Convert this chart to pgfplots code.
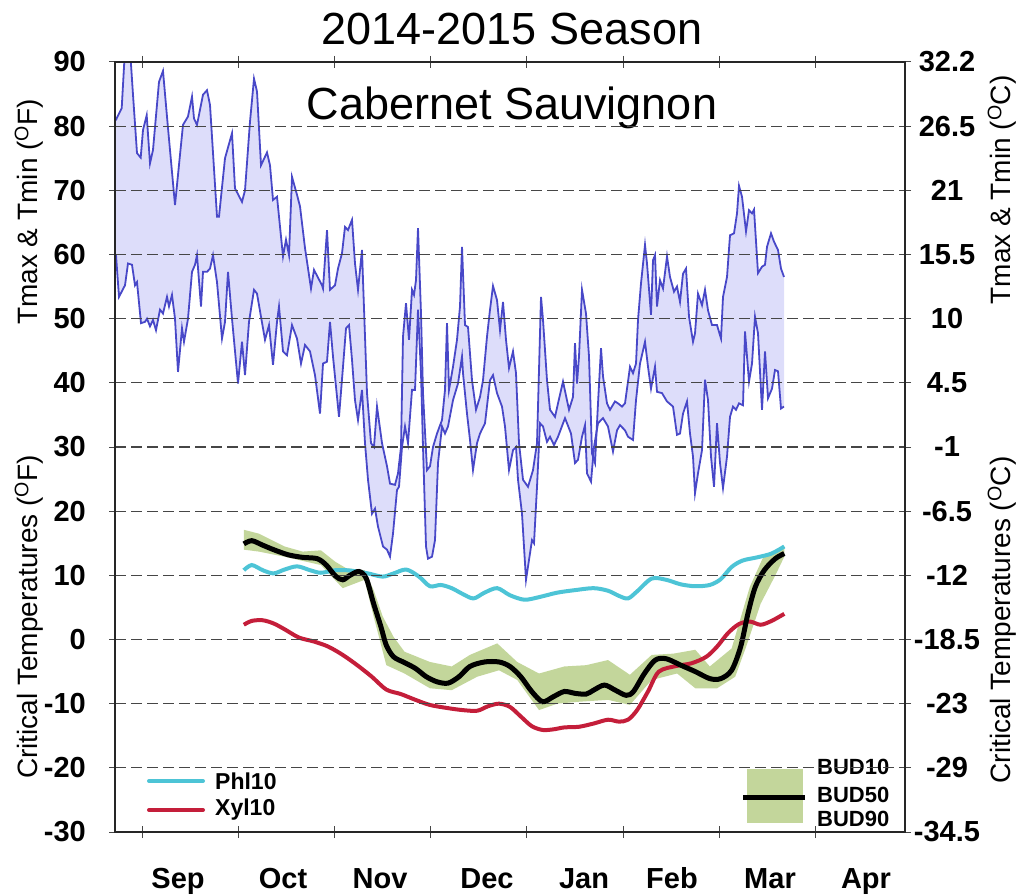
\documentclass[border=0pt]{standalone}
\usepackage{fontspec}
\setmainfont{Liberation Sans}
\usepackage{pgfplots}
\pgfplotsset{compat=1.18}
\usepgfplotslibrary{fillbetween}

\definecolor{lav}{RGB}{221,221,250}
\definecolor{tline}{RGB}{72,72,200}
\definecolor{phl}{RGB}{77,196,214}
\definecolor{xyl}{RGB}{196,30,58}
\definecolor{bud}{RGB}{195,214,155}
\definecolor{gridc}{RGB}{70,70,70}

\begin{document}
\begin{tikzpicture}
\begin{axis}[
  at={(115pt,63pt)}, anchor=south west,
  scale only axis, width=790pt, height=770pt,
  xmin=115, xmax=905, ymin=-30, ymax=90,
  axis on top,
  xtick={178,283,380,487,584,672,770,866},
  xticklabels={Sep,Oct,Nov,Dec,Jan,Feb,Mar,Apr},
  minor xtick={142,238.2,334.4,430.6,526.8,623,719.2,815.4},
  major x tick style={draw=none},
  ytick={-30,-20,...,90},
  yticklabels={-30,-20,-10,0,10,20,30,40,50,60,70,80,90},
  tick align=center, major tick length=12pt, minor tick length=12pt,
  tick style={gridc, line width=1pt},
  ymajorgrids,
  grid style={gridc, line width=1.3pt, dash pattern=on 11pt off 5pt},
  axis line style={black!85, line width=1.3pt},
  yticklabel style={font=\fontsize{29}{30}\selectfont\bfseries, anchor=east, inner sep=0pt, xshift=-23pt},
  xticklabel style={font=\fontsize{29}{30}\selectfont\bfseries, anchor=base, inner sep=0pt, yshift=-50pt},
]
% Tmax
\addplot[name path=tmax, tline, line width=1.8pt] coordinates {
(115,81)(116,81)(121.7,82.8)(125,92)(130,92)(133,84.9)(137,75.8)(140.7,75.1)(143,79.4)(146.7,81.7)
(150,74.2)(153,76.3)(159,86.9)(163,88.6)(168,79.7)(175,67.7)(178,72.4)(183,80.2)(188,81.5)(192,84.6)
(194,81.2)(197,80.2)(203,84.9)(207,85.6)(210,83.3)(217,65.9)(219,65.9)(225,75)(232,78.9)(235,70.3)
(242,68.2)(245,70)(250,80.7)(254,87.4)(257,85.4)(261,73.9)(267,75.9)(270,73.9)(273,68.5)(277,69)
(283,59.7)(286,62.3)(289,59.9)(292,72.1)(297,69.3)(300,67.5)(305,61)(311,54.7)(314,57.6)(322,55.2)
(323,54.7)(327,63.8)(330,54.5)(335,55.2)(338,57.8)(342,60.2)(345,64.3)(348,63.8)(352,65.4)(355,58.6)
(358,54.5)(362,60.7)(363,56)(367,38.4)(371,30.6)(374,30)(377,36.3)(382,30.6)(387,27)(390,24.3)
(395,24.1)(398,25.9)(401,30)(403,47.2)(406,52.4)(409,46.7)(412,54.5)(414,53.7)(416,56)(418,64.1)
(421,50.8)(423,38.4)(427,26.4)(430,27)(433,30)(437,32.1)(442,34.2)(445,38.9)(447,49.3)(449,38.9)
(453,42.5)(457,46.7)(460,51.9)(462,61.2)(465,49)(468,48.7)(472,40.4)(476,35.8)(480,37.8)(483,40.4)
(487,47.2)(490,51.4)(493,55.1)(497,52.9)(500,48.2)(503,52.6)(506,46.7)(509,42.3)(513,44.9)(516,41.5)
(519,30.6)(523,24.9)(528,23.8)(533,26.4)(537,30.6)(541,53.4)(543,49.8)(547,40.4)(550,35.8)(555,34.7)
(558,36.8)(563,40.2)(569,35.8)(573,37.8)(575,46.2)(577,39.9)(579,44.1)(582,54.5)(586,50.8)(589,44.1)
(592,29)(595,27.5)(598,36.8)(601,45.4)(603,41)(607,36.8)(610,35.8)(615,37.1)(618,36.8)(622,36.3)
(625,36.8)(630,42.5)(633,41.5)(636,43)(638,49.8)(641,55.5)(645,61.5)(647,58.6)(651,50.6)(653,59.1)
(655,59.9)(657,51.9)(660,56)(663,54.7)(667,59.7)(670,56.5)(674,54.2)(677,55)(680,52.6)(683,57)
(686,57.8)(689,50.3)(693,46.4)(695,47.7)(698,53.9)(702,52.1)(705,54.5)(708,51.3)(712,49)(717,49)
(721,46.9)(723,53.4)(727,56.5)(730,63)(734,63.3)(737,66.4)(739,70.7)(742,69)(746,63.6)(749,66.9)
(752,66.4)(754,67)(758,57.1)(762,58.1)(765,58.4)(767,61.2)(771,63.3)(774,62)(778,60.7)(781,57.8)
(784,56.5)
};
% Tmin
\addplot[name path=tmin, tline, line width=1.8pt] coordinates {
(115,60)(116,59.9)(119,53.4)(125,55.2)(128,58.6)(132,58.4)(135,55.2)(137,55.7)(141,49.3)(145,49.5)
(147,50)(150,48.8)(153,49.8)(156,48.2)(160,51.4)(163,50.8)(167,53.4)(169,51.9)(172,53.7)(175,50)
(178,41.7)(182,48.5)(184,46.4)(188,50)(192,57.3)(195,58.4)(197,59.9)(201,51.9)(203,57.3)(207,57.3)
(210,57.8)(213,59.9)(217,55.7)(222,46.9)(225,49.5)(228,57.3)(232,50)(238,39.9)(242,46.4)(245,41.2)
(249,49.5)(254,54.5)(257,53.9)(265,46.7)(269,49)(273,42.8)(277,49.5)(279,51.9)(283,44.9)(287,44.3)
(292,49)(297,46.9)(301,43)(305,45.9)(310,44.9)(315,41.2)(320,35.2)(323,43)(327,43.3)(330,49.5)
(333,44.1)(339,34.7)(343,42.5)(346,48.5)(349,49)(352,43.6)(355,37.3)(358,34.2)(362,38.9)(365,30.6)
(368,24.9)(372,19.6)(375,20.4)(378,17.6)(383,14.5)(387,14)(390,12.9)(393,16.5)(397,23.3)(399,23.8)
(402,30)(405,33.2)(408,30.6)(412,38.9)(415,38.9)(418,51.4)(421,41.5)(423,30)(426,14.5)(428,12.6)
(432,12.9)(435,15.5)(438,27.5)(442,33.2)(445,32.1)(448,33.2)(453,37.3)(458,39.9)(462,44.1)(463,41.5)
(467,35.2)(470,31.1)(473,26.4)(477,30.6)(480,32.1)(485,33.7)(490,40.4)(493,41.2)(497,38.4)(502,36.3)
(505,33.2)(509,26.4)(513,29.5)(516,30)(518,24.9)(522,19.6)(526,9.3)(529,12.4)(532,15.5)(534,15)
(537,23.8)(540,33.7)(543,33.2)(547,30.8)(550,31.6)(554,30.3)(558,31.6)(565,34.5)(571,32.1)(575,27.5)
(578,28)(582,31.6)(585,33.4)(587,25.9)(591,24.6)(594,30)(598,33.7)(603,34.5)(608,33.2)(613,29.3)
(617,32.6)(620,33.4)(625,32.6)(628,31.6)(633,31.1)(636,37.3)(640,43)(645,46.4)(648,42.5)(651,39.1)
(655,42.5)(657,38.6)(662,38.4)(667,37.1)(673,36.3)(677,31.9)(680,32.1)(683,35.2)(687,37.1)(690,32.1)
(693,28.5)(695,22.8)(698,25.9)(702,29.5)(705,40.5)(708,37.3)(711,28.5)(714,23.8)(717,33.7)(720,27.5)
(723,23.6)(727,28.5)(730,34.7)(733,36.3)(736,35.8)(739,36.8)(743,36.5)(745,48)(747,44.1)(749,40.2)
(752,43)(755,50.3)(758,47.7)(762,35.8)(765,44.9)(768,37.6)(772,39.1)(775,42)(778,41.8)(781,36)
(784,36.3)
};
\addplot[lav] fill between[of=tmax and tmin];

% BUD band (BUD10 upper, BUD90 lower)
\addplot[name path=bud10, draw=none] coordinates {
(243.8,17.1)(258.9,16.5)(284.5,14.5)(302.7,13.7)(320.9,13.9)(335.4,12.1)(346.3,11.1)(364.5,10.8)
(373.6,7.7)(382.7,3.6)(393.6,0.4)(404.5,-1.9)(429.9,-3.5)(451.7,-4.2)(469.9,-2.4)(497.2,-0.6)
(517.2,-3.5)(539,-5.3)(564.4,-4.2)(586.2,-4.0)(608,-3.2)(629.9,-5.5)(651.7,-2.4)(673.5,-2.2)
(695.3,-1.6)(709.8,-4.2)(731.6,-1.4)(749.8,8.2)(762.5,12.6)(784.3,14.5)
};
\addplot[name path=bud90, draw=none] coordinates {
(243.8,14.0)(258.9,13.7)(284.5,12.9)(320.9,11.6)(342.7,8.0)(364.5,9.3)(373.6,3.6)(386.3,-4.0)
(404.5,-5.3)(429.9,-7.6)(451.7,-7.9)(477.2,-5.8)(499,-4.8)(517.2,-6.3)(539,-11.0)(557.2,-10.0)
(579,-9.7)(608,-9.4)(629.9,-10.2)(651.7,-6.3)(677.1,-5.3)(695.3,-7.6)(717.1,-7.6)(735.2,-5.8)
(746.2,-1.1)(760.7,5.6)(775.3,10.0)(784.3,12.9)
};
\addplot[bud] fill between[of=bud10 and bud90];

% Phl10
\addplot[phl, line width=4pt, smooth] coordinates {
(243.8,10.8)(251.8,11.6)(262.7,10.8)(273.6,10.3)(284.5,10.9)(297.2,11.4)(310,10.8)(320.9,10.4)
(335.4,10.8)(346.3,10.8)(357.2,10.6)(368.1,10.3)(382.7,9.8)(393.6,10.3)(406.3,10.9)(419,9.8)
(429.9,8.3)(440.8,8.5)(451.7,8.0)(462.6,7.1)(473.5,6.4)(484.5,7.3)(497.2,8.0)(509.9,6.9)
(524.4,6.2)(539,6.6)(557.2,7.3)(575.3,7.7)(593.5,8.0)(608,7.6)(618.9,6.8)(628,6.4)(637.1,7.5)
(651.7,9.5)(666.2,9.3)(680.7,8.6)(695.3,8.3)(709.8,8.5)(720.7,9.4)(731.6,11.3)(742.5,12.3)
(757.1,12.8)(771.6,13.4)(784.3,14.5)
};
% Xyl10
\addplot[xyl, line width=4pt, smooth] coordinates {
(243.8,2.3)(251.8,2.9)(262.7,3.0)(273.6,2.5)(284.5,1.6)(299,0.3)(313.6,-0.3)(328.1,-1.1)
(342.7,-2.4)(357.2,-4.0)(371.8,-5.8)(386.3,-7.8)(400.8,-8.5)(415.4,-9.4)(429.9,-10.2)(448.1,-10.7)
(462.6,-11.0)(477.2,-11.1)(488.1,-10.4)(499,-10.0)(509.9,-10.5)(520.8,-12.0)(531.7,-13.5)
(542.6,-14.1)(553.5,-14.0)(564.4,-13.7)(579,-13.6)(593.5,-13.1)(608,-12.5)(618.9,-12.8)(628,-12.5)
(637.1,-11.0)(648,-8.1)(658.9,-5.0)(677.1,-4.1)(691.6,-3.7)(706.2,-2.7)(717.1,-1.1)(728,1.0)
(738.9,2.4)(749.8,2.8)(760.7,2.3)(771.6,2.9)(784.3,4.0)
};
% BUD50
\addplot[black, line width=5pt, smooth] coordinates {
(243.8,14.9)(251.8,15.4)(262.7,14.7)(273.6,14.0)(288.2,13.2)(302.7,12.8)(317.2,12.6)(326.3,11.6)
(335.4,9.9)(342.7,9.3)(350,10.0)(359,10.6)(366.3,9.5)(373.6,5.6)(380.9,2.0)(386.3,-0.9)(393.6,-2.7)
(404.5,-3.6)(415.4,-4.5)(426.3,-5.8)(437.2,-6.6)(448.1,-6.8)(459,-5.8)(469.9,-4.2)(484.5,-3.5)
(499,-3.5)(509.9,-4.2)(520.8,-5.8)(531.7,-8.1)(542.6,-9.7)(553.5,-8.9)(564.4,-8.1)(575.3,-8.4)
(586.2,-8.5)(593.5,-7.9)(604.4,-7.1)(615.3,-7.9)(626.2,-8.7)(633.5,-8.1)(644.4,-5.3)(655.3,-3.2)
(666.2,-3.0)(680.7,-4.0)(695.3,-5.0)(709.8,-6.1)(720.7,-6.1)(731.6,-4.8)(740.7,-1.1)(748,4.1)
(755.3,8.2)(764.3,10.8)(775.3,12.6)(784.3,13.4)
};

% legends
\draw[phl, line width=4pt, line cap=round] (axis cs:149,-22.05) -- (axis cs:203,-22.05);
\draw[xyl, line width=4pt, line cap=round] (axis cs:149,-26.57) -- (axis cs:203,-26.57);
\node[anchor=west, inner sep=0pt, font=\fontsize{23}{25}\selectfont\bfseries] at (axis cs:215,-22.05) {Phl10};
\node[anchor=west, inner sep=0pt, font=\fontsize{23}{25}\selectfont\bfseries] at (axis cs:215,-26.57) {Xyl10};
\fill[bud] (axis cs:747,-28.6) rectangle (axis cs:803,-20.18);
\draw[black, line width=5pt] (axis cs:743,-24.7) -- (axis cs:805,-24.7);
\node[anchor=west, inner sep=0pt, font=\fontsize{22}{24}\selectfont\bfseries] at (axis cs:817,-19.87) {BUD10};
\node[anchor=west, inner sep=0pt, font=\fontsize{22}{24}\selectfont\bfseries] at (axis cs:817,-24.23) {BUD50};
\node[anchor=west, inner sep=0pt, font=\fontsize{22}{24}\selectfont\bfseries] at (axis cs:817,-27.97) {BUD90};
\end{axis}

\begin{axis}[
  at={(115pt,63pt)}, anchor=south west,
  scale only axis, width=790pt, height=770pt,
  xmin=115, xmax=905, ymin=-30, ymax=90,
  axis y line*=right, axis x line=none,
  ytick={-30,-20,...,90},
  yticklabels={-34.5,-29,-23,-18.5,-12,-6.5,-1,4.5,10,15.5,21,26.5,32.2},
  major tick length=0pt,
  y axis line style={draw=none},
  yticklabel style={font=\fontsize{29}{30}\selectfont\bfseries, anchor=center, inner sep=0pt, xshift=42pt},
]
\addplot[draw=none] coordinates {(200,0)(300,10)};
\end{axis}

% titles and axis labels
\node[anchor=base, inner sep=0pt, font=\fontsize{45}{50}\selectfont] at (512pt,850pt) {2014-2015 Season};
\node[anchor=base, inner sep=0pt, font=\fontsize{45}{50}\selectfont] at (512pt,775pt) {Cabernet Sauvignon};
\node[rotate=90, inner sep=0pt, font=\fontsize{28}{30}\selectfont] at (29pt,683pt) {Tmax \& Tmin (\textsuperscript{O}F)};
\node[rotate=90, inner sep=0pt, font=\fontsize{28}{30}\selectfont] at (29pt,278pt) {Critical Temperatures (\textsuperscript{O}F)};
\node[rotate=90, inner sep=0pt, font=\fontsize{28}{30}\selectfont] at (1002pt,705pt) {Tmax \& Tmin (\textsuperscript{O}C)};
\node[rotate=90, inner sep=0pt, font=\fontsize{28}{30}\selectfont] at (1002pt,275pt) {Critical Temperatures (\textsuperscript{O}C)};
\path (0,0) rectangle (1024pt,895pt);
\end{tikzpicture}
\end{document}
